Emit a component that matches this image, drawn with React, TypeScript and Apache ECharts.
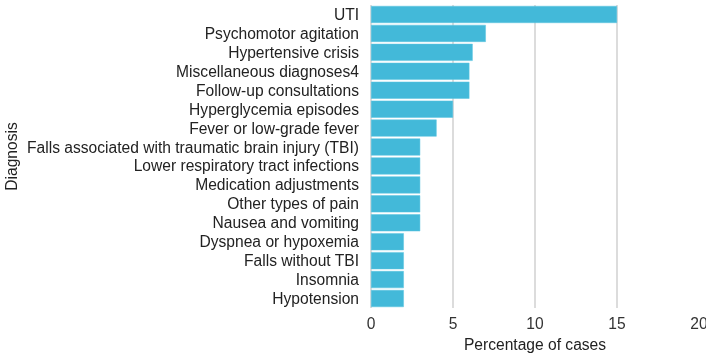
import React, { useEffect, useRef } from "react";
import * as echarts from "echarts";

// Diagnoses, listed top to bottom
const diagnoses = [
  "UTI",
  "Psychomotor agitation",
  "Hypertensive crisis",
  "Miscellaneous diagnoses4",
  "Follow-up consultations",
  "Hyperglycemia episodes",
  "Fever or low-grade fever",
  "Falls associated with traumatic brain injury (TBI)",
  "Lower respiratory tract infections",
  "Medication adjustments",
  "Other types of pain",
  "Nausea and vomiting",
  "Dyspnea or hypoxemia",
  "Falls without TBI",
  "Insomnia",
  "Hypotension",
];

// Percentage of cases for each diagnosis
const percentages = [15, 7, 6.2, 6, 6, 5, 4, 3, 3, 3, 3, 3, 2, 2, 2, 2];

const xTicks = [0, 5, 10, 15, 20];

export default function App() {
  const ref = useRef<HTMLDivElement>(null);

  useEffect(() => {
    if (!ref.current) return;
    const chart = echarts.init(ref.current, null, { renderer: "svg" });
    const font = "Liberation Sans, Arial, sans-serif";
    const fs = 15.6;
    chart.setOption({
      animation: false,
      textStyle: { fontFamily: font },
      grid: { left: 371, right: 14, top: 5, bottom: 48, containLabel: false },
      xAxis: {
        type: "value",
        min: xTicks[0],
        max: xTicks[xTicks.length - 1],
        interval: 5,
        name: "Percentage of cases",
        nameLocation: "middle",
        nameGap: 28,
        nameTextStyle: { fontSize: fs, color: "#222", fontFamily: font },
        axisLine: { show: false },
        axisTick: { show: false },
        axisLabel: { fontSize: fs, color: "#333", margin: 7, fontFamily: font },
        splitLine: {
          show: true,
          showMaxLine: false,
          lineStyle: { color: "#d0d0d0", width: 1.5 },
        },
      },
      yAxis: {
        type: "category",
        inverse: true,
        data: diagnoses,
        name: "Diagnosis",
        nameLocation: "middle",
        nameGap: 352,
        nameRotate: 90,
        nameTextStyle: { fontSize: fs, color: "#222", fontFamily: font },
        axisLine: { show: false },
        axisTick: { show: false },
        axisLabel: { fontSize: fs, color: "#222", margin: 12, interval: 0, fontFamily: font },
        splitLine: { show: false },
      },
      series: [
        {
          type: "bar",
          data: percentages,
          barCategoryGap: "10%",
          itemStyle: { color: "#43b9d9", borderColor: "#5cc4e0", borderWidth: 0.5 },
        },
      ],
    });
    return () => chart.dispose();
  }, []);

  return (
    <div
      style={{ position: "fixed", left: 0, top: 0, width: 706, height: 357, overflow: "hidden" }}
    >
      <div ref={ref} style={{ width: 713, height: 357 }} />
    </div>
  );
}
